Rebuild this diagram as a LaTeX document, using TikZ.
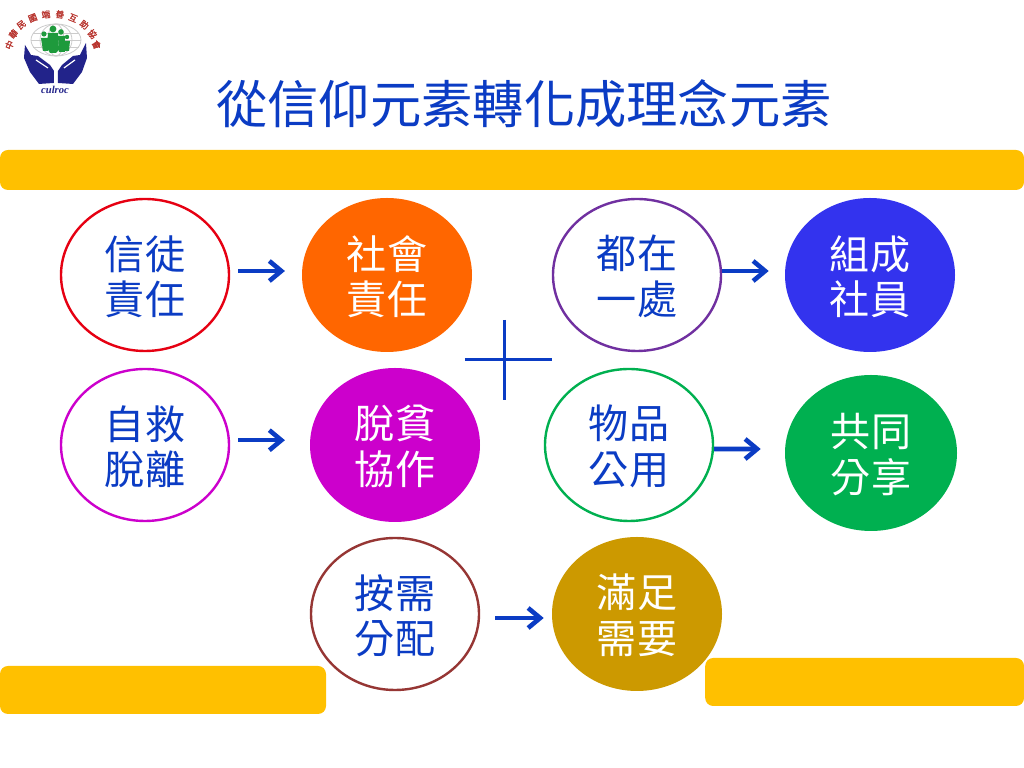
\documentclass[tikz,border=0pt]{standalone}
\usepackage{fontspec}
\setmainfont{Noto Sans CJK TC}
\newfontfamily\logofont{Liberation Serif}
\newfontfamily\logocjk[FakeBold=1.5]{Noto Sans CJK TC}
\usepackage{tikz}
\usetikzlibrary{arrows.meta,shapes.geometric}
\definecolor{titleblue}{HTML}{0B3CC4}
\definecolor{baryellow}{HTML}{FFC000}
\definecolor{handblue}{HTML}{22238A}
\definecolor{logored}{HTML}{B8342E}
\definecolor{logogreen}{HTML}{1E9A3C}
\definecolor{ringred}{HTML}{E60012}
\definecolor{ringpurple}{HTML}{7030A0}
\definecolor{ringbrown}{HTML}{963634}
\definecolor{myorange}{HTML}{FF6600}
\definecolor{myblue}{HTML}{3333EE}
\definecolor{mymagenta}{HTML}{CC00CC}
\definecolor{mygreen}{HTML}{00B050}
\definecolor{mygold}{HTML}{CC9900}
\tikzset{
  bubble/.style={ellipse,minimum width=4.25cm,minimum height=3.85cm,inner sep=0pt,align=center,
    font=\fontsize{28.5}{32.5}\selectfont},
  openb/.style={bubble,draw=#1,line width=.06cm,minimum width=4.2cm,minimum height=3.8cm,fill=white,text=titleblue,text depth=-.1cm},
  fullb/.style={bubble,fill=#1,text=white,text depth=-.1cm},
  flow/.style={-{Straight Barb[length=.3cm,width=.5cm,line width=.115cm]},line width=.115cm,titleblue},
  bar/.style={fill=baryellow,rounded corners=.2cm}
}
\begin{document}
\begin{tikzpicture}
\useasboundingbox (0,0) rectangle (25.6,19.2);
\fill[white] (0,0) rectangle (25.6,19.2);
% bars
\fill[bar] (0,14.45) rectangle (25.6,15.45);
\fill[bar] (0,1.35) rectangle (8.15,2.55);
\fill[bar] (17.63,1.55) rectangle (25.6,2.75);
% title
\node[text=titleblue,font=\fontsize{36.5}{40}\selectfont] (title) at (13.1,16.6) {從信仰元素轉化成理念元素};
% first row
\node[openb=ringred] (xintu) at (3.625,12.325) {信徒\\責任};
\node[fullb=myorange] (shehui) at (9.675,12.325) {社會\\責任};
\node[openb=ringpurple] (douzai) at (15.925,12.325) {都在\\一處};
\node[fullb=myblue] (zucheng) at (21.75,12.325) {組成\\社員};
% second row
\node[openb=mymagenta] (zijiu) at (3.625,8.075) {自救\\脫離};
\node[fullb=mymagenta] (tuopin) at (9.875,8.075) {脫貧\\協作};
\node[openb=mygreen] (wupin) at (15.725,8.075) {物品\\公用};
\node[fullb=mygreen,minimum width=4.3cm,minimum height=3.9cm] (gongtong) at (21.775,7.875) {共同\\分享};
% third row
\node[openb=ringbrown] (anxu) at (9.875,3.85) {按需\\分配};
\node[fullb=mygold] (manzu) at (15.925,3.85) {滿足\\需要};
% arrows
\draw[flow,shorten <=.2cm,shorten >=.42cm] ([yshift=.1cm]xintu.east)--([yshift=.1cm]shehui.west);
\draw[flow,shorten <=0cm,shorten >=.4cm] ([yshift=.1cm]douzai.east)--([yshift=.1cm]zucheng.west);
\draw[flow,shorten <=.2cm,shorten >=.62cm] ([yshift=.12cm]zijiu.east)--([yshift=.12cm]tuopin.west);
\draw[flow,shorten <=0cm,shorten >=.6cm] ([yshift=-.1cm]wupin.east)--([yshift=.1cm]gongtong.west);
\draw[flow,shorten <=.38cm,shorten >=.2cm] ([yshift=-.1cm]anxu.east)--([yshift=-.1cm]manzu.west);
% plus
\draw[titleblue,line width=.08cm] (11.62,10.22)--(13.8,10.22);
\draw[titleblue,line width=.08cm] (12.61,11.2)--(12.61,9.2);
% logo
\begin{scope}[shift={(0,19.2)},x=.025cm,y=-.025cm]
\foreach \r in {8,16,25}
  \draw[black!20,line width=.02cm] (56,40) ellipse ({\r} and 16);
\draw[black!20,line width=.02cm] (33,33)--(79,33) (31,40)--(81,40) (33,47)--(79,47);
\fill[logogreen] (53,29) circle (3.4) (44,34) circle (2.6) (61,32) circle (2.8) (67,37) circle (2.2);
\fill[logogreen] (48,33)--(58,33)--(59,50)--(56,53)--(50,53)--(47,48)--cycle;
\fill[logogreen] (41,38)--(48,38)--(48,51)--(43,51)--cycle;
\fill[logogreen] (58,36)--(65,36)--(65,52)--(59,52)--cycle;
\fill[logogreen] (64,41)--(70,41)--(69,51)--(65,51)--cycle;
\fill[handblue] (25,45)--(31,55)--(38,56)--(50,65)--(54,71)--(54,83)--(39,84)--(30,72)--(24,58)--cycle;
\fill[handblue] (86,43)--(80,55)--(73,56)--(62,65)--(58,71)--(58,83)--(73,84)--(82,72)--(87,58)--cycle;
\draw[white,line width=.03cm] (36,60)--(48,68) (75,60)--(64,68);
\foreach \ch [count=\i] in {中,華,民,國,端,善,互,助,協,會}
  \node[text=logored,font=\logocjk\fontsize{6.2}{6.2}\selectfont,inner sep=0pt,rotate={(172-(\i-1)*18.2-90)*.8}] (logoch\i) at ({53+44*cos(172-(\i-1)*18.2)},{50-36*sin(172-(\i-1)*18.2)}) {\ch};
\node[text=handblue,font=\logofont\itshape\bfseries\fontsize{7.5}{8}\selectfont,inner sep=0pt] (culroc) at (55,90) {culroc};
\end{scope}
\end{tikzpicture}
\end{document}
